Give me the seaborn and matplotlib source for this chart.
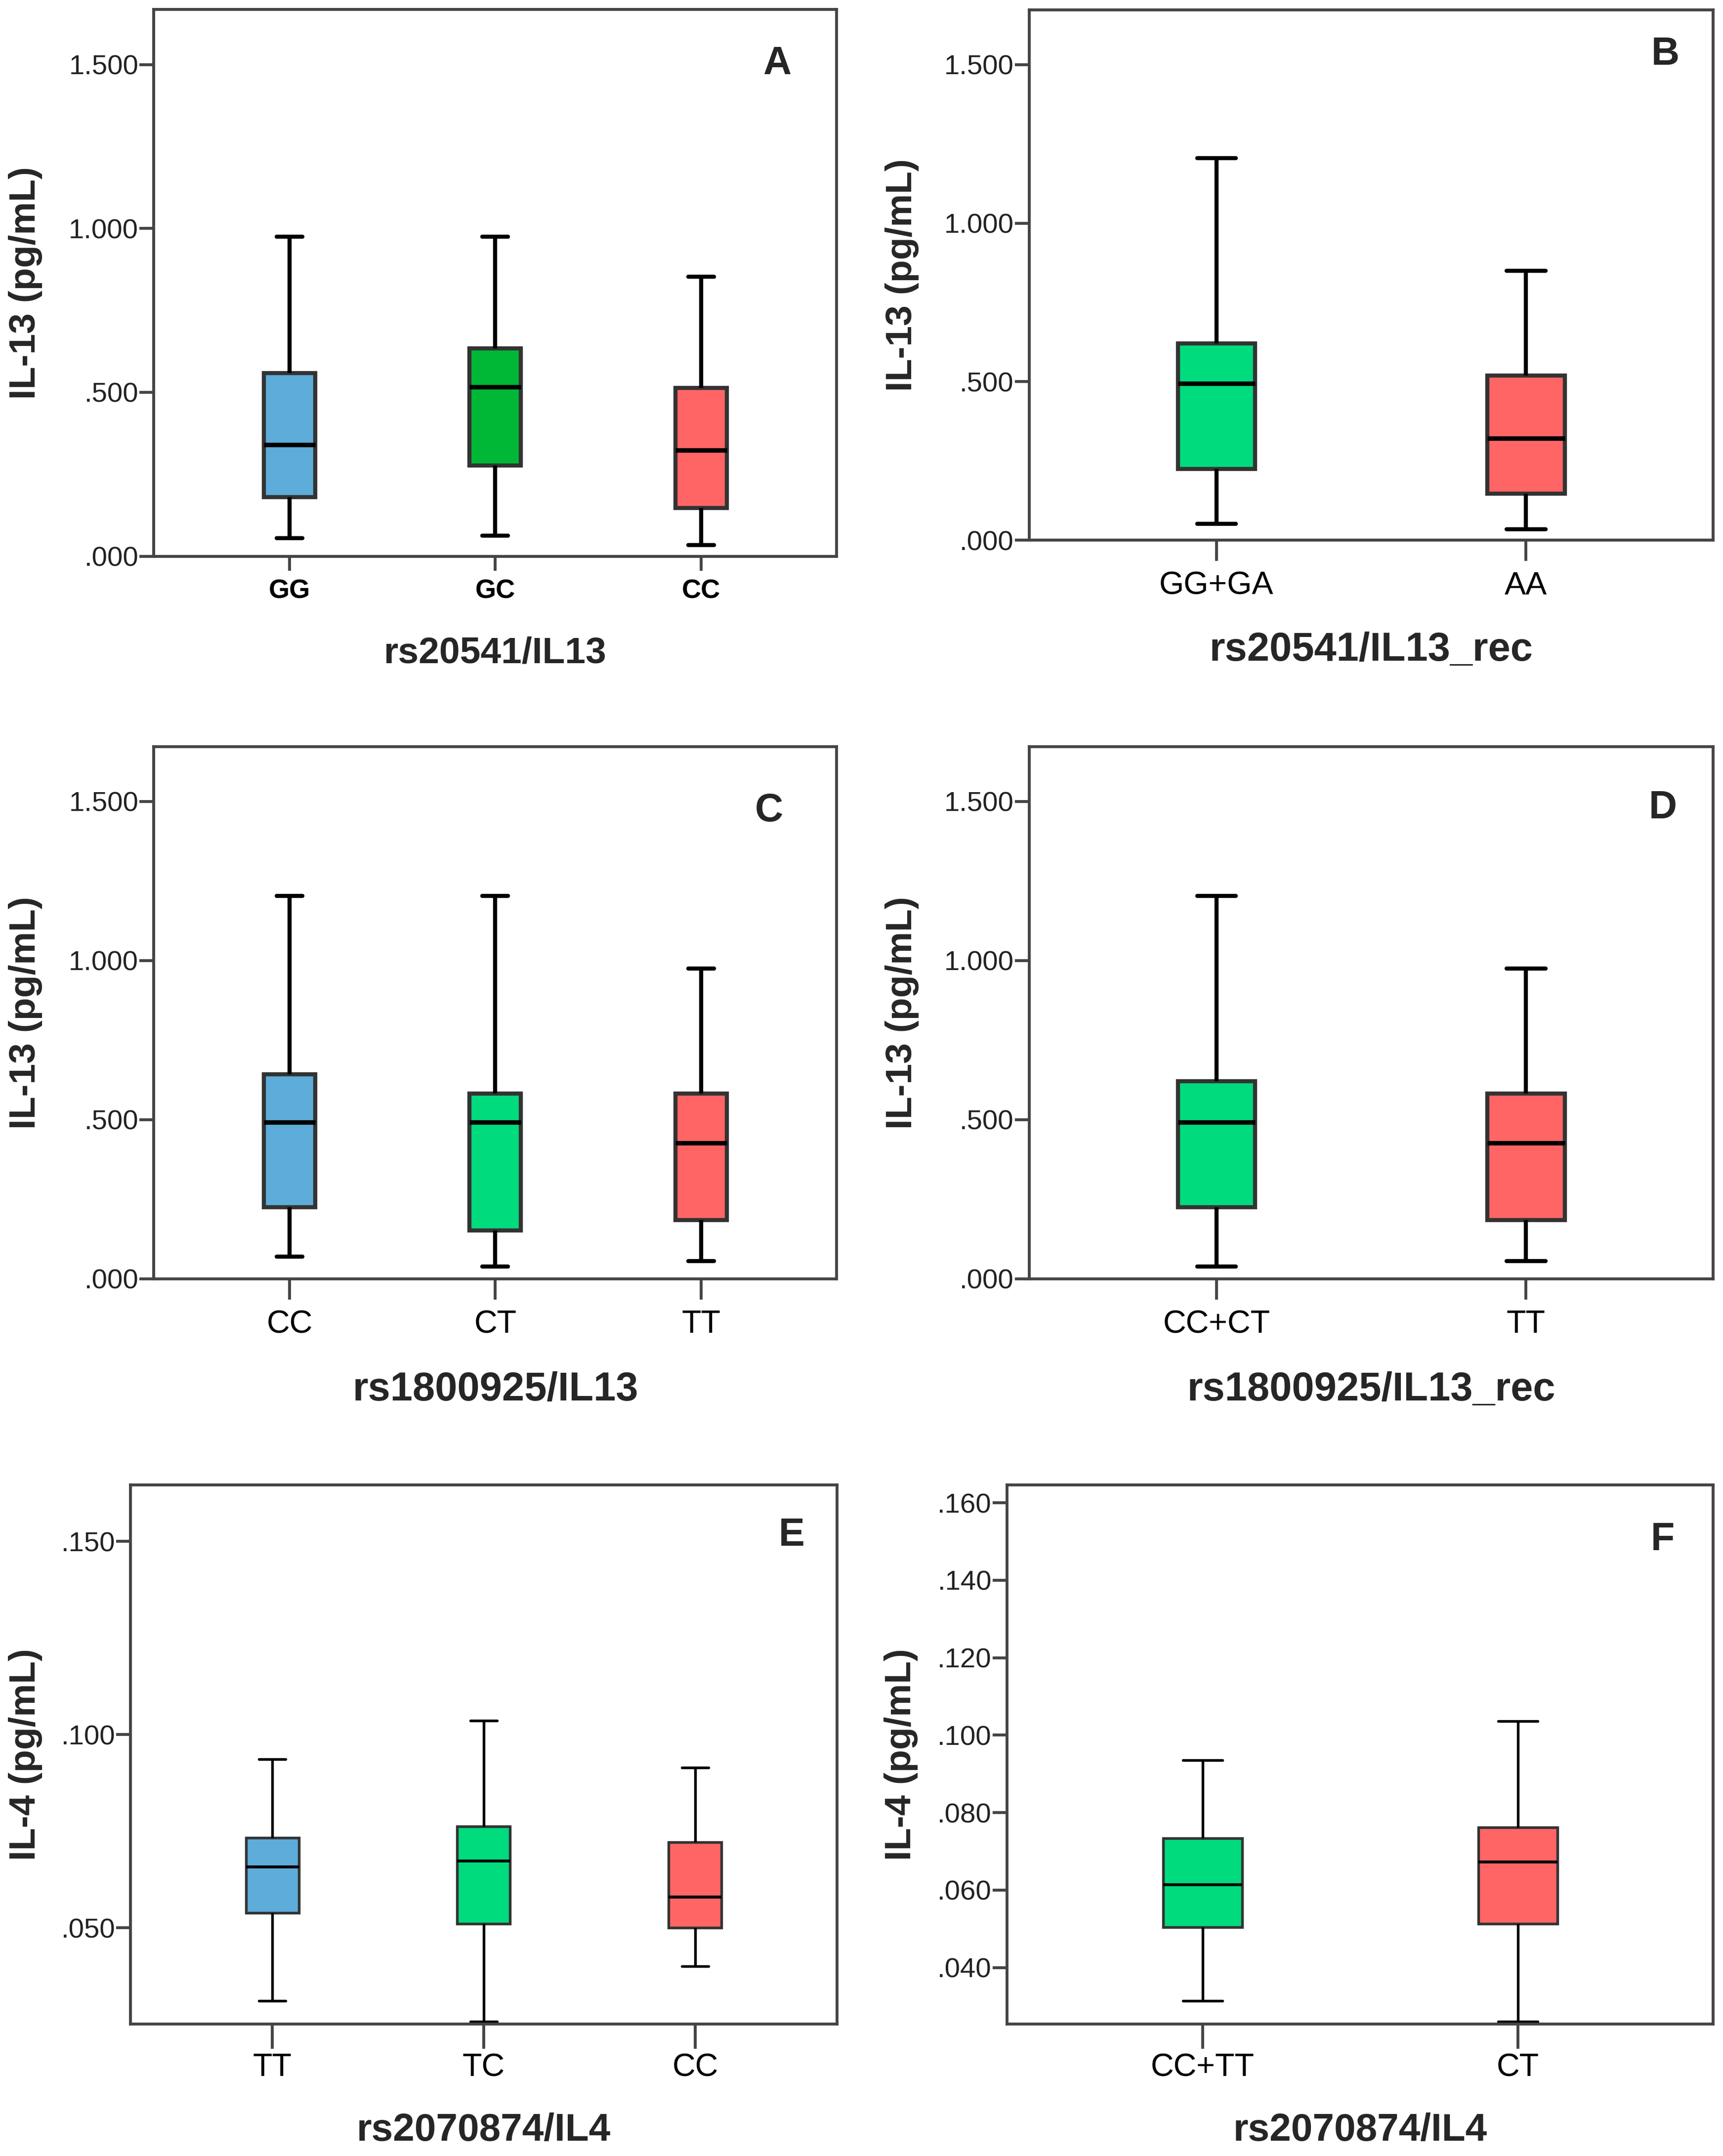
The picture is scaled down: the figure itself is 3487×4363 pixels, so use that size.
import numpy as np
import pandas as pd
import matplotlib
matplotlib.use('Agg')
import matplotlib.pyplot as plt
from matplotlib.ticker import FuncFormatter
import seaborn as sns

sns.set_style('white')
plt.rcParams['font.family'] = ['Liberation Sans', 'DejaVu Sans']

blue = '#5DACD9'
green_dark = '#00B836'
green = '#00DB7D'
red = '#FF6565'

# five-number summaries: low whisker, Q1, median, Q3, high whisker
a_groups = ['GG', 'GC', 'CC']
a_stats = [[0.055, 0.181, 0.340, 0.559, 0.975],
           [0.063, 0.277, 0.517, 0.634, 0.975],
           [0.034, 0.147, 0.324, 0.513, 0.853]]

b_groups = ['GG+GA', 'AA']
b_stats = [[0.052, 0.225, 0.494, 0.620, 1.205],
           [0.035, 0.147, 0.321, 0.520, 0.850]]

c_groups = ['CC', 'CT', 'TT']
c_stats = [[0.069, 0.224, 0.491, 0.642, 1.203],
           [0.039, 0.151, 0.491, 0.582, 1.203],
           [0.056, 0.185, 0.427, 0.582, 0.974]]

d_groups = ['CC+CT', 'TT']
d_stats = [[0.039, 0.224, 0.491, 0.621, 1.203],
           [0.056, 0.185, 0.427, 0.582, 0.974]]

e_groups = ['TT', 'TC', 'CC']
e_stats = [[0.0311, 0.0539, 0.0658, 0.0733, 0.0936],
           [0.0258, 0.0511, 0.0673, 0.0762, 0.1036],
           [0.0400, 0.0500, 0.0580, 0.0722, 0.0915]]

f_groups = ['CC+TT', 'CT']
f_stats = [[0.0314, 0.0504, 0.0614, 0.0734, 0.0936],
           [0.0260, 0.0513, 0.0673, 0.0762, 0.1036]]

il13_ticks = [0.0, 0.5, 1.0, 1.5]
e_ticks = [0.05, 0.10, 0.15]
f_ticks = [0.04, 0.06, 0.08, 0.10, 0.12, 0.14, 0.16]


def to_frame(groups, stats):
    rows = []
    for g, s in zip(groups, stats):
        for v in s:
            rows.append({'genotype': g, 'value': v})
    return pd.DataFrame(rows)


def spss_fmt(v, pos):
    s = f'{v:.3f}'
    if s.startswith('0.'):
        s = s[1:]
    return s


panels = [
    dict(letter='A', groups=a_groups, stats=a_stats, colors=[blue, green_dark, red],
         rect=[0.0893, 0.742, 0.3963, 0.2536], ylim=(0, 1.668), xlim=(-0.66, 2.66),
         ticks=il13_ticks, ylabel='IL-13 (pg/mL)', xlabel='rs20541/IL13',
         lpos=(0.913, 0.90), ylx=-0.163, xly=-0.146, lw=2.0, xbold=True, xsize=13,
         xtl=7, xpad=4, xlsize=18),
    dict(letter='B', groups=b_groups, stats=b_stats, colors=[green, red],
         rect=[0.5973, 0.7494, 0.3971, 0.2461], ylim=(0, 1.673), xlim=(-0.605, 1.605),
         ticks=il13_ticks, ylabel='IL-13 (pg/mL)', xlabel='rs20541/IL13_rec',
         lpos=(0.93, 0.915), ylx=-0.161, xly=-0.172, lw=2.0, xbold=False, xsize=15.5,
         xtl=10, xpad=5, xlsize=19.5),
    dict(letter='C', groups=c_groups, stats=c_stats, colors=[blue, green, red],
         rect=[0.0893, 0.4069, 0.3963, 0.2468], ylim=(0, 1.672), xlim=(-0.66, 2.66),
         ticks=il13_ticks, ylabel='IL-13 (pg/mL)', xlabel='rs1800925/IL13',
         lpos=(0.901, 0.879), ylx=-0.163, xly=-0.174, lw=2.0, xbold=False, xsize=15.5,
         xtl=10, xpad=5, xlsize=19.5),
    dict(letter='D', groups=d_groups, stats=d_stats, colors=[green, red],
         rect=[0.5973, 0.4069, 0.3971, 0.2468], ylim=(0, 1.672), xlim=(-0.605, 1.605),
         ticks=il13_ticks, ylabel='IL-13 (pg/mL)', xlabel='rs1800925/IL13_rec',
         lpos=(0.926, 0.884), ylx=-0.161, xly=-0.174, lw=2.0, xbold=False, xsize=15.5,
         xtl=10, xpad=5, xlsize=19.5),
    dict(letter='E', groups=e_groups, stats=e_stats, colors=[blue, green, red],
         rect=[0.0758, 0.0612, 0.4099, 0.25], ylim=(0.0251, 0.1646), xlim=(-0.67, 2.67),
         ticks=e_ticks, ylabel='IL-4 (pg/mL)', xlabel='rs2070874/IL4',
         lpos=(0.936, 0.906), ylx=-0.125, xly=-0.164, lw=1.3, xbold=False, xsize=15.5,
         xtl=12, xpad=2, xlsize=18.8),
    dict(letter='F', groups=f_groups, stats=f_stats, colors=[green, red],
         rect=[0.5845, 0.0612, 0.4099, 0.25], ylim=(0.0254, 0.1646), xlim=(-0.62, 1.62),
         ticks=f_ticks, ylabel='IL-4 (pg/mL)', xlabel='rs2070874/IL4',
         lpos=(0.928, 0.898), ylx=-0.126, xly=-0.164, lw=1.3, xbold=False, xsize=15.5,
         xtl=12, xpad=2, xlsize=18.8),
]

fig = plt.figure(figsize=(3487 / 300, 4363 / 300), dpi=300)

for p in panels:
    ax = fig.add_axes(p['rect'])
    df = to_frame(p['groups'], p['stats'])
    lw = p['lw']
    sns.boxplot(data=df, x='genotype', y='value', hue='genotype',
                order=p['groups'], hue_order=p['groups'], palette=p['colors'],
                saturation=1, width=0.25, whis=(0, 100), legend=False, ax=ax,
                linewidth=lw, linecolor='#333333',
                medianprops=dict(color='black', linewidth=lw * 1.1),
                whiskerprops=dict(color='black', linewidth=lw),
                capprops=dict(color='black', linewidth=lw))
    ax.set_ylim(*p['ylim'])
    ax.set_xlim(*p['xlim'])
    ax.set_yticks(p['ticks'])
    ax.yaxis.set_major_formatter(FuncFormatter(spss_fmt))
    for s in ax.spines.values():
        s.set_visible(True)
        s.set_color('#444444')
        s.set_linewidth(1.4)
    ax.tick_params(axis='y', left=True, length=7, width=1.4, color='#444444',
                   pad=0.5, labelsize=13.5, labelcolor='#222222')
    ax.tick_params(axis='x', bottom=True, length=p['xtl'], width=1.4, color='#444444',
                   pad=p['xpad'], labelsize=p['xsize'], labelcolor='black')
    if p['xbold']:
        for t in ax.get_xticklabels():
            t.set_fontweight('bold')
    ax.set_ylabel(p['ylabel'], fontsize=18, fontweight='bold')
    ax.set_xlabel(p['xlabel'], fontsize=p['xlsize'], fontweight='bold')
    ax.yaxis.set_label_coords(p['ylx'], 0.5)
    ax.xaxis.set_label_coords(0.5, p['xly'])
    ax.text(p['lpos'][0], p['lpos'][1], p['letter'], transform=ax.transAxes,
            fontsize=19, fontweight='bold', ha='center', va='center')

fig.savefig('out.png', dpi=300, facecolor='white')
